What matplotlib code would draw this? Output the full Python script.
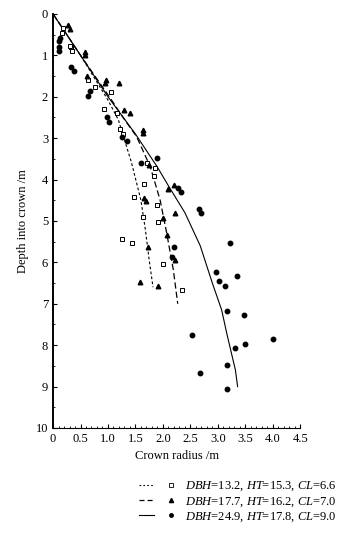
import matplotlib
matplotlib.use("Agg")
import matplotlib.pyplot as plt
from matplotlib.lines import Line2D
from matplotlib.legend_handler import HandlerTuple
from matplotlib.ticker import MultipleLocator, FuncFormatter

plt.rcParams['font.family'] = ['Liberation Serif', 'DejaVu Serif']
plt.rcParams['mathtext.fontset'] = 'custom'
plt.rcParams['mathtext.rm'] = 'Liberation Serif'
plt.rcParams['mathtext.it'] = 'Liberation Serif:italic'

# measured points: crown radius (m) vs depth into crown (m)
sq_x = [0.19, 0.17, 0.33, 0.34, 0.31, 0.64, 0.77, 1.06, 0.92, 1.17, 1.22, 1.27,
        1.71, 1.86, 1.83, 1.66, 1.48, 1.89, 1.63, 1.91, 1.26, 1.44, 2.01, 2.34]
sq_y = [0.35, 0.47, 0.79, 0.89, 0.77, 1.59, 1.77, 1.88, 2.29, 2.40, 2.79, 2.90,
        3.61, 3.71, 3.91, 4.11, 4.41, 4.61, 4.91, 5.02, 5.43, 5.54, 6.04, 6.67]

tri_x = [0.28, 0.31, 0.58, 0.58, 0.62, 0.96, 0.95, 1.20, 1.29, 1.40, 1.63, 1.63,
         1.75, 2.20, 2.09, 1.65, 1.69, 2.22, 2.00, 2.07, 1.72, 2.22, 1.58, 1.91]
tri_y = [0.27, 0.37, 0.91, 0.99, 1.51, 1.59, 1.66, 1.67, 2.31, 2.40, 2.80, 2.88,
         3.65, 4.13, 4.23, 4.44, 4.52, 4.81, 4.92, 5.35, 5.64, 5.94, 6.47, 6.56]

dot_x = [0.13, 0.11, 0.10, 0.10, 0.33, 0.38, 0.67, 0.63, 0.99, 1.02, 1.25, 1.34,
         1.89, 1.60, 2.28, 2.33, 2.65, 2.70, 3.22, 2.20, 2.16, 2.97, 3.35, 3.03,
         3.13, 3.16, 3.47, 2.53, 4.00, 3.50, 3.32, 3.16, 2.68, 3.16]
dot_y = [0.57, 0.65, 0.79, 0.89, 1.29, 1.39, 1.86, 1.98, 2.50, 2.62, 2.97, 3.08,
         3.49, 3.61, 4.21, 4.31, 4.71, 4.81, 5.54, 5.64, 5.86, 6.24, 6.34, 6.45,
         6.56, 7.17, 7.27, 7.76, 7.86, 7.97, 8.08, 8.47, 8.66, 9.07]

# fitted crown profiles
fit1_x = [0, 0.5, 1.0, 1.19, 1.43, 1.60, 1.68, 1.75, 1.82]
fit1_y = [0, 1.0, 2.08, 2.56, 3.60, 4.50, 5.20, 5.94, 6.60]
fit2_x = [0, 0.5, 1.05, 1.30, 1.52, 1.77, 1.95, 2.07, 2.19, 2.27]
fit2_y = [0, 1.0, 2.05, 2.55, 2.96, 3.69, 4.50, 5.30, 6.18, 7.00]
fit3_x = [0, 0.5, 1.0, 1.5, 1.9, 2.1, 2.4, 2.68, 2.9, 3.07, 3.16, 3.32, 3.36]
fit3_y = [0, 1.0, 2.0, 2.9, 3.7, 4.15, 4.8, 5.6, 6.5, 7.15, 7.7, 8.6, 9.0]

labels = [r"$\it{DBH}$=13.2, $\it{HT}$=15.3, $\it{CL}$=6.6",
          r"$\it{DBH}$=17.7, $\it{HT}$=16.2, $\it{CL}$=7.0",
          r"$\it{DBH}$=24.9, $\it{HT}$=17.8, $\it{CL}$=9.0"]

fig = plt.figure(figsize=(3.4, 5.35), dpi=100)
ax = fig.add_axes([0.156, 0.2, 0.727, 0.774])

ax.plot(fit1_x, fit1_y, color='k', lw=0.8, ls=(0, (2.5, 2)))
ax.plot(fit2_x, fit2_y, color='k', lw=0.9, ls=(0, (5, 2.5)))
ax.plot(fit3_x, fit3_y, color='k', lw=0.8)
ax.plot(sq_x, sq_y, 's', ms=3.2, mfc='white', mec='k', mew=0.7)
ax.plot(tri_x, tri_y, '^', ms=3.3, color='k')
ax.plot(dot_x, dot_y, 'o', ms=3.2, color='k')

ax.set_xlim(0, 4.5)
ax.set_ylim(10, 0)
ax.xaxis.set_major_locator(MultipleLocator(0.5))
ax.xaxis.set_minor_locator(MultipleLocator(0.1))
ax.xaxis.set_major_formatter(FuncFormatter(lambda v, p: '0' if abs(v) < 1e-9 else '%.1f' % v))
ax.yaxis.set_major_locator(MultipleLocator(1))
ax.yaxis.set_minor_locator(MultipleLocator(0.5))
ax.tick_params(which='both', direction='in', labelsize=9, top=False, right=False)
ax.tick_params(which='major', length=3, width=0.8)
ax.tick_params(which='minor', length=1.5, width=0.6)
ax.spines['top'].set_visible(False)
ax.spines['right'].set_visible(False)
ax.spines['left'].set_linewidth(1.4)
ax.spines['bottom'].set_linewidth(0.8)
ax.set_xlabel("Crown radius /m", fontsize=9, labelpad=4)
ax.set_ylabel("Depth into crown /m", fontsize=9, labelpad=5)

h1 = (Line2D([], [], color='k', lw=0.8, ls=(0, (1.5, 2))),
      Line2D([], [], ls='none', marker='s', ms=3, mfc='white', mec='k', mew=0.6))
h2 = (Line2D([], [], color='k', lw=0.9, ls=(0, (4, 2.5))),
      Line2D([], [], ls='none', marker='^', ms=3, color='k'))
h3 = (Line2D([], [], color='k', lw=0.8),
      Line2D([], [], ls='none', marker='o', ms=2.5, color='k'))
fig.legend([h1, h2, h3], labels, handler_map={tuple: HandlerTuple(ndivide=None, pad=0.8)},
           loc='upper left', bbox_to_anchor=(0.39, 0.115), frameon=False, fontsize=9,
           handlelength=3.2, handletextpad=0.5, labelspacing=0.15, borderpad=0)

fig.savefig("out.png", dpi=100)
